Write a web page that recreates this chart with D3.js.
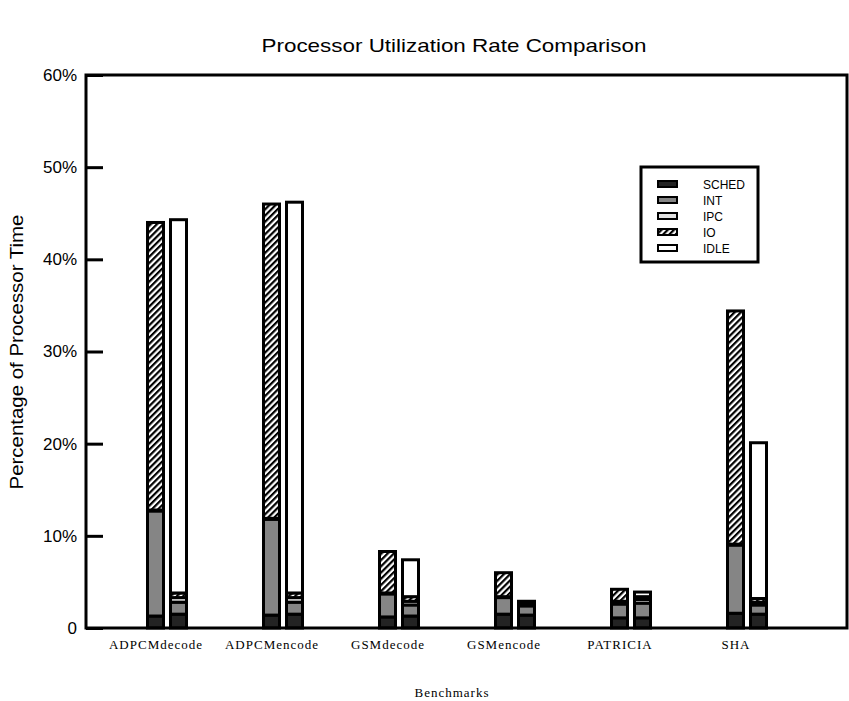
<!DOCTYPE html>
<html>
<head>
<meta charset="utf-8">
<script src="https://cdn.jsdelivr.net/npm/d3@7"></script>
<style>
  html, body { margin: 0; padding: 0; background: #fff; }
  svg { display: block; }
</style>
</head>
<body>
<svg id="chart" width="849" height="701"></svg>
<script>
// ---- Data ----
const categories = ["ADPCMdecode", "ADPCMencode", "GSMdecode", "GSMencode", "PATRICIA", "SHA"];
const seriesNames = ["SCHED", "INT", "IPC", "IO", "IDLE"];

// Left bar of each benchmark (percent of processor time)
const leftSCHED = [1.3, 1.4, 1.2, 1.5, 1.1, 1.6];
const leftINT   = [11.4, 10.4, 2.5, 1.8, 1.5, 7.4];
const leftIPC   = [0.1, 0.1, 0.1, 0.1, 0.3, 0.1];
const leftIO    = [31.2, 34.1, 4.5, 2.6, 1.3, 25.3];
const leftIDLE  = [0, 0, 0, 0, 0, 0];

// Right bar of each benchmark
const rightSCHED = [1.5, 1.5, 1.3, 1.4, 1.1, 1.5];
const rightINT   = [1.3, 1.3, 1.2, 1.0, 1.6, 1.0];
const rightIPC   = [0.5, 0.5, 0.4, 0.3, 0.4, 0.3];
const rightIO    = [0.5, 0.5, 0.5, 0.2, 0.3, 0.4];
const rightIDLE  = [40.5, 42.4, 4.0, 0, 0.5, 16.9];

const yTicks = [0, 10, 20, 30, 40, 50, 60];
const yTickLabels = ["0", "10%", "20%", "30%", "40%", "50%", "60%"];

const title = "Processor Utilization Rate Comparison";
const xTitle = "Benchmarks";
const yTitle = "Percentage of Processor Time";

// ---- Build tables ----
function rows(s, i, io, ipc, idle) {
  return categories.map((c, k) => ({ cat: c, SCHED: s[k], INT: i[k], IPC: ipc[k], IO: io[k], IDLE: idle[k] }));
}
const leftRows = rows(leftSCHED, leftINT, leftIO, leftIPC, leftIDLE);
const rightRows = rows(rightSCHED, rightINT, rightIO, rightIPC, rightIDLE);

// ---- Layout ----
const plot = { left: 86, right: 847, top: 75, bottom: 628 };
const svg = d3.select("#chart");

const x = d3.scalePoint().domain(categories).range([155.5, 735.5]);
const y = d3.scaleLinear().domain([0, 60]).range([plot.bottom, plot.top]);
const barOffset = 23;
const barW = 16;

const defs = svg.append("defs");
const pat = defs.append("pattern")
  .attr("id", "hatch").attr("patternUnits", "userSpaceOnUse")
  .attr("width", 4.4).attr("height", 4.4)
  .attr("patternTransform", "rotate(45)");
pat.append("rect").attr("width", 4.4).attr("height", 4.4).attr("fill", "#fff");
pat.append("rect").attr("width", 2.2).attr("height", 4.4).attr("fill", "#000");

const fills = { SCHED: "#232323", INT: "#858585", IPC: "#e2e2e2", IO: "url(#hatch)", IDLE: "#ffffff" };

const stack = d3.stack().keys(seriesNames);

function drawBars(data, offset) {
  const layers = stack(data);
  const g = svg.append("g");
  layers.forEach(layer => {
    g.selectAll(null).data(layer.filter(d => d[1] - d[0] > 0)).enter().append("rect")
      .attr("x", d => x(d.data.cat) + offset - barW / 2)
      .attr("width", barW)
      .attr("y", d => y(d[1]))
      .attr("height", d => y(d[0]) - y(d[1]))
      .attr("fill", fills[layer.key])
      .attr("stroke", "#000")
      .attr("stroke-width", 3);
  });
}
drawBars(leftRows, 0);
drawBars(rightRows, barOffset);

// Frame
svg.append("rect")
  .attr("x", plot.left).attr("y", plot.top)
  .attr("width", plot.right - plot.left).attr("height", plot.bottom - plot.top)
  .attr("fill", "none").attr("stroke", "#000").attr("stroke-width", 3);

// Y axis
const yAxis = d3.axisLeft(y).tickValues(yTicks)
  .tickFormat((d, i) => yTickLabels[i]).tickSizeInner(-17).tickSizeOuter(0).tickPadding(9);
const yg = svg.append("g").attr("transform", `translate(${plot.left},0)`).call(yAxis);
yg.select(".domain").remove();
yg.selectAll(".tick line").attr("stroke", "#000").attr("stroke-width", 3);
yg.selectAll(".tick text").attr("font-family", "'Liberation Sans', Arial, sans-serif")
  .attr("font-size", 17).attr("fill", "#000");

// X labels
const xAxis = d3.axisBottom(x).tickSize(0).tickPadding(12);
const xg = svg.append("g").attr("transform", `translate(0,${plot.bottom})`).call(xAxis);
xg.select(".domain").remove();
xg.selectAll(".tick text").attr("font-family", "'Liberation Serif', 'Times New Roman', serif")
  .attr("font-size", 13).attr("letter-spacing", 1).attr("fill", "#000");

// Titles
svg.append("text").attr("x", 454).attr("y", 52).attr("text-anchor", "middle")
  .attr("font-family", "'Liberation Sans', Arial, sans-serif").attr("font-size", 19)
  .attr("textLength", 385).attr("lengthAdjust", "spacingAndGlyphs")
  .text(title);
svg.append("text").attr("x", 452).attr("y", 697).attr("text-anchor", "middle")
  .attr("font-family", "'Liberation Serif', 'Times New Roman', serif").attr("font-size", 13)
  .attr("letter-spacing", 1).text(xTitle);
svg.append("text").attr("transform", "translate(23,352) rotate(-90)").attr("text-anchor", "middle")
  .attr("font-family", "'Liberation Sans', Arial, sans-serif").attr("font-size", 19)
  .attr("textLength", 275).attr("lengthAdjust", "spacingAndGlyphs")
  .text(yTitle);

// Legend
const leg = svg.append("g");
leg.append("rect").attr("x", 641).attr("y", 167).attr("width", 117).attr("height", 95)
  .attr("fill", "#fff").attr("stroke", "#000").attr("stroke-width", 3);
const legY = d3.scalePoint().domain(seriesNames).range([184, 248]);
seriesNames.forEach(k => {
  leg.append("rect").attr("x", 658).attr("y", legY(k) - 3).attr("width", 19).attr("height", 6)
    .attr("fill", fills[k]).attr("stroke", "#000").attr("stroke-width", 2);
  leg.append("text").attr("x", 703).attr("y", legY(k) + 4.5)
    .attr("font-family", "'Liberation Sans', Arial, sans-serif").attr("font-size", 12)
    .text(k);
});
</script>
</body>
</html>
